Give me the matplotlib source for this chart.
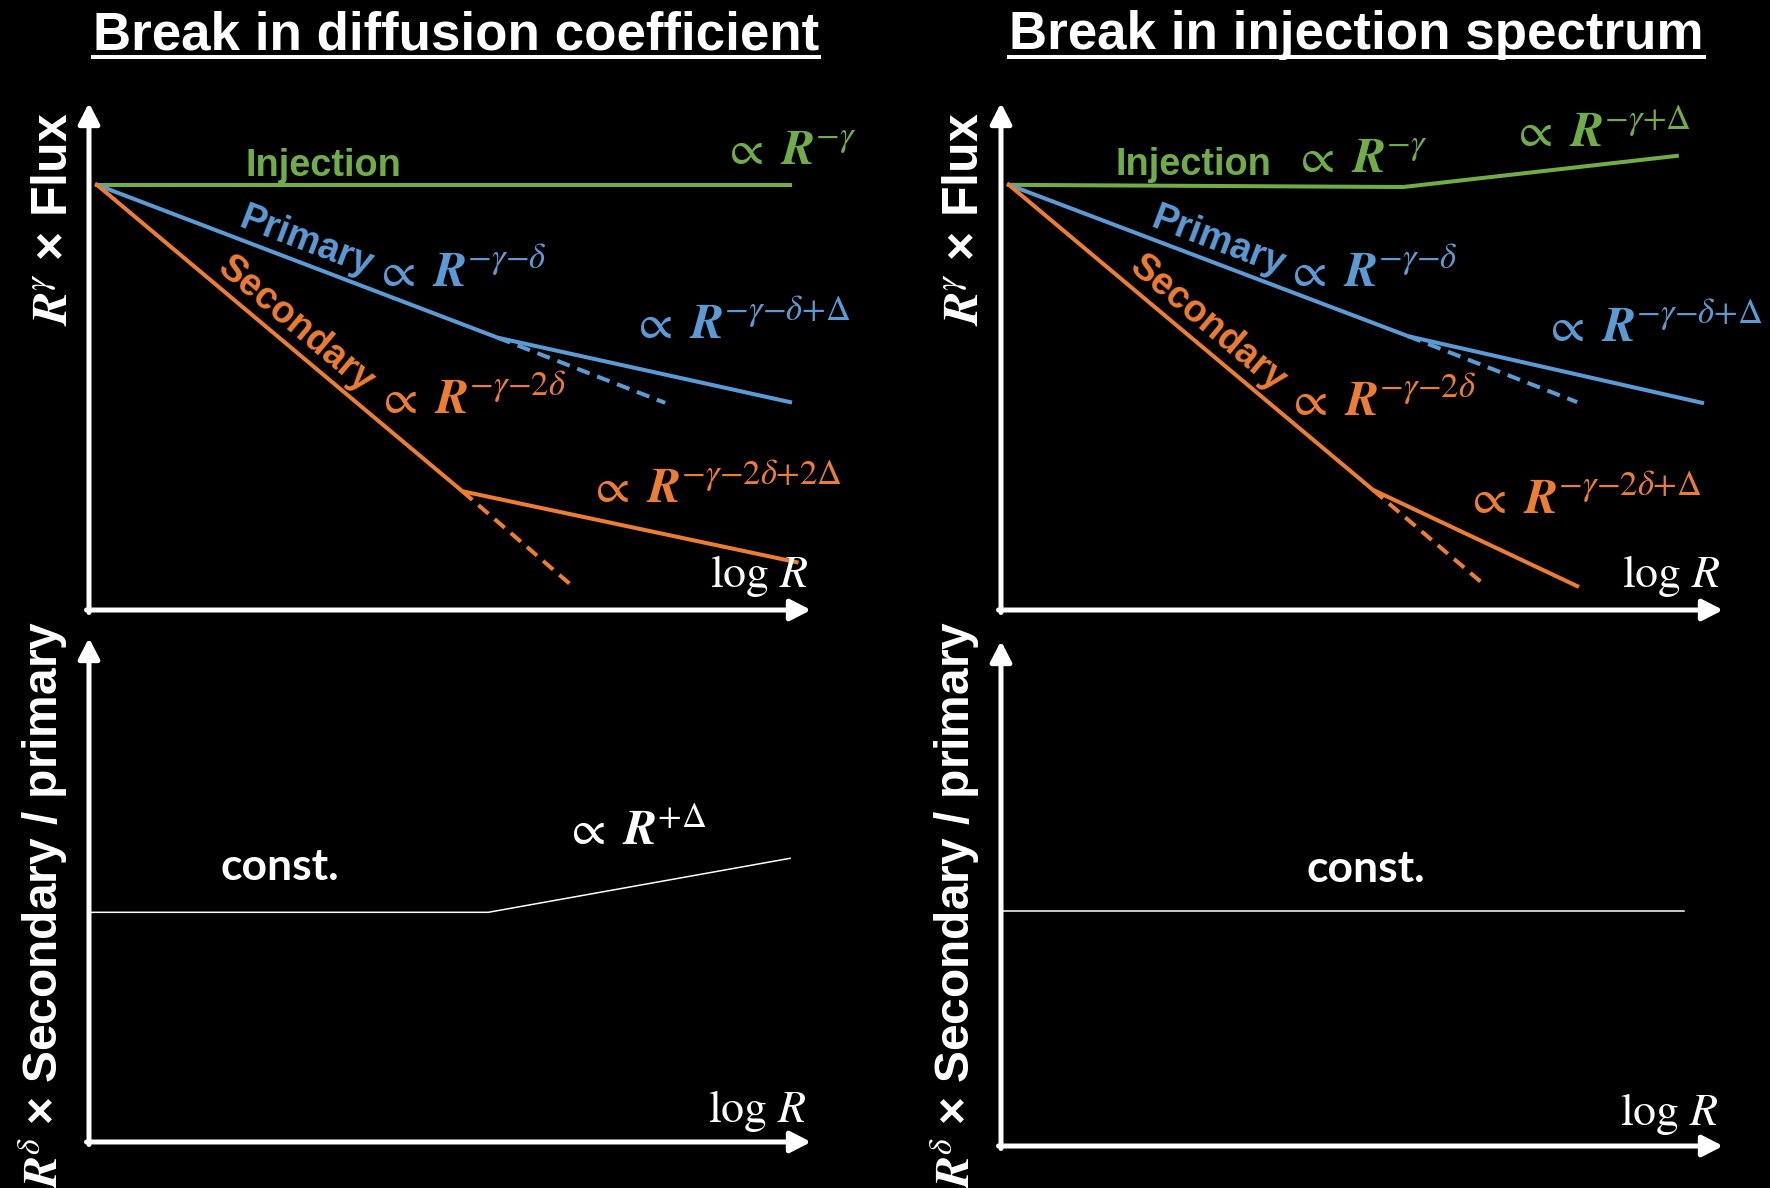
import numpy as np
import matplotlib
matplotlib.use("Agg")
import matplotlib.pyplot as plt
from matplotlib.transforms import offset_copy

plt.rcParams['mathtext.fontset'] = 'stix'

W, H = 1770, 1188
GREEN = '#70AD47'
BLUE = '#5B9BD5'
ORANGE = '#ED7D31'
WHITE = 'white'
SANS = 'Liberation Sans'

# ---- schematic spectra: x = log R, y = log(R^gamma x flux), arbitrary units ----
# Break in the diffusion coefficient
diff_inj_x = [0.11, 9.71]
diff_inj_y = [5.87, 5.87]
diff_pri_x = [0.11, 5.66, 9.71]
diff_pri_y = [5.87, 3.76, 2.87]
diff_pri_nobreak_x = [5.66, 7.98]
diff_pri_nobreak_y = [3.76, 2.86]
diff_sec_x = [0.11, 5.17, 9.80]
diff_sec_y = [5.87, 1.64, 0.66]
diff_sec_nobreak_x = [5.17, 6.66]
diff_sec_nobreak_y = [1.64, 0.36]
diff_ratio_x = [0.0, 5.53, 9.71]
diff_ratio_y = [3.19, 3.19, 3.94]

# Break in the injection spectrum
inj_inj_x = [0.11, 5.57, 9.36]
inj_inj_y = [5.87, 5.84, 6.27]
inj_pri_x = [0.11, 5.64, 9.71]
inj_pri_y = [5.87, 3.78, 2.86]
inj_pri_nobreak_x = [5.64, 7.98]
inj_pri_nobreak_y = [3.78, 2.87]
inj_sec_x = [0.11, 5.15, 7.98]
inj_sec_y = [5.87, 1.66, 0.33]
inj_sec_nobreak_x = [5.15, 6.68]
inj_sec_nobreak_y = [1.66, 0.36]
inj_ratio_x = [0.0, 9.46]
inj_ratio_y = [3.26, 3.26]

panel_titles = ['Break in diffusion coefficient', 'Break in injection spectrum']
flux_ylabel = r'$\mathbfit{R}^{\gamma}$ × Flux'
ratio_ylabel = r'$\mathbfit{R}^{\delta}$ × Secondary / primary'
xlabel = r'$\log\,R$'

fig = plt.figure(figsize=(W / 100, H / 100), dpi=100, facecolor='black')


def add_panel(left, top, bottom, right):
    ax = fig.add_axes([left / W, 1 - bottom / H, (right - left) / W, (bottom - top) / H])
    ax.set_xlim(0, 10)
    ax.set_ylim(0, 7)
    ax.set_facecolor('black')
    ax.axis('off')
    # arrowed axes
    style = '-|>,head_length=0.62,head_width=0.32'
    padx = 2.5 / (right - left)
    pady = 2.5 / (bottom - top)
    for start, end in [((-padx, 0), (1, 0)), ((0, -pady), (0, 1))]:
        ax.annotate('', xy=end, xytext=start, xycoords='axes fraction',
                    textcoords='axes fraction', annotation_clip=False,
                    arrowprops=dict(arrowstyle=style, color=WHITE, lw=3.6,
                                    mutation_scale=20, shrinkA=0, shrinkB=0))
    return ax


def ftext(x, y, s, **kw):
    return fig.text(x / W, 1 - y / H, s, **kw)


def along(ax, xs, ys, xpos, s, color, offset=3):
    """Place a word rotated along the first segment of a line."""
    x0, y0, x1, y1 = xs[0], ys[0], xs[1], ys[1]
    ypos = y0 + (y1 - y0) * (xpos - x0) / (x1 - x0)
    p0 = ax.transData.transform((x0, y0))
    p1 = ax.transData.transform((x1, y1))
    ang = np.degrees(np.arctan2(p1[1] - p0[1], p1[0] - p0[0]))
    nx, ny = -np.sin(np.radians(ang)), np.cos(np.radians(ang))
    tr = offset_copy(ax.transData, fig=fig, x=nx * offset, y=ny * offset, units='dots')
    ax.text(xpos, ypos, s, transform=tr, rotation=ang, rotation_mode='anchor',
            ha='center', va='bottom', color=color, fontsize=27,
            fontweight='bold', family=SANS)


def spectra(ax, inj, pri, pri_nb, sec, sec_nb):
    lw = 2.9
    ax.plot(*inj, color=GREEN, lw=lw, solid_joinstyle='miter')
    ax.plot(*pri, color=BLUE, lw=lw)
    ax.plot(*pri_nb, color=BLUE, lw=lw, ls=(0, (3.3, 2.0)))
    ax.plot(*sec, color=ORANGE, lw=lw)
    ax.plot(*sec_nb, color=ORANGE, lw=lw, ls=(0, (3.3, 2.0)))


ax_tl = add_panel(89, 103, 610, 811)
ax_tr = add_panel(1001, 103, 610, 1723)
ax_bl = add_panel(89, 638, 1142, 811)
ax_br = add_panel(1001, 641, 1146, 1723)

spectra(ax_tl, (diff_inj_x, diff_inj_y), (diff_pri_x, diff_pri_y),
        (diff_pri_nobreak_x, diff_pri_nobreak_y), (diff_sec_x, diff_sec_y),
        (diff_sec_nobreak_x, diff_sec_nobreak_y))
spectra(ax_tr, (inj_inj_x, inj_inj_y), (inj_pri_x, inj_pri_y),
        (inj_pri_nobreak_x, inj_pri_nobreak_y), (inj_sec_x, inj_sec_y),
        (inj_sec_nobreak_x, inj_sec_nobreak_y))
ax_bl.plot(diff_ratio_x, diff_ratio_y, color=WHITE, lw=1.1)
ax_br.plot(inj_ratio_x, inj_ratio_y, color=WHITE, lw=1.1)

for ax, pri, sec in [(ax_tl, (diff_pri_x, diff_pri_y), (diff_sec_x, diff_sec_y)),
                     (ax_tr, (inj_pri_x, inj_pri_y), (inj_sec_x, inj_sec_y))]:
    along(ax, *pri, 2.9, 'Primary', BLUE)
    along(ax, *sec, 2.68, 'Secondary', ORANGE)

# titles with underline
for x0, title in zip([93, 1009], panel_titles):
    ftext(x0, 49, title, color=WHITE, fontsize=38.1, fontweight='bold',
          family=SANS, ha='left', va='baseline')
fig.canvas.draw()
renderer = fig.canvas.get_renderer()
for t in list(fig.texts):
    bb = t.get_window_extent(renderer)
    fig.add_artist(plt.Line2D([bb.x0 / W, bb.x1 / W], [1 - 57 / H, 1 - 57 / H],
                              transform=fig.transFigure, color=WHITE, lw=2.9))

# y labels
for xb, ytop, s, fs in [(67, 113, flux_ylabel, 36), (978, 113, flux_ylabel, 36),
                        (58, 621, ratio_ylabel, 34.5), (970, 621, ratio_ylabel, 34.5)]:
    ftext(xb, ytop, s, rotation=90, rotation_mode='anchor', ha='right',
          va='baseline', color=WHITE, fontsize=fs, fontweight='bold', family=SANS)

# word labels
for x, y in [(246, 176), (1116, 175)]:
    ftext(x, y, 'Injection', color=GREEN, fontsize=27.3, fontweight='bold',
          family=SANS, ha='left', va='baseline')
for x, y in [(220, 880), (1306, 882)]:
    ftext(x, y, 'const.', color=WHITE, fontsize=32, fontweight='bold',
          family='Lato', ha='left', va='baseline')

# power-law labels (exponent operators kept tight, as ordinary symbols)
slope_labels = [
    (722, 164, r'$\propto\ \mathbfit{R}^{{-}\gamma}$', GREEN),
    (374, 286, r'$\propto\ \mathbfit{R}^{{-}\gamma{-}\delta}$', BLUE),
    (631, 338, r'$\propto\ \mathbfit{R}^{{-}\gamma{-}\delta{+}\Delta}$', BLUE),
    (376, 413, r'$\propto\ \mathbfit{R}^{{-}\gamma{-}2\delta}$', ORANGE),
    (588, 502, r'$\propto\ \mathbfit{R}^{{-}\gamma{-}2\delta{+}2\Delta}$', ORANGE),
    (1293, 172, r'$\propto\ \mathbfit{R}^{{-}\gamma}$', GREEN),
    (1511, 147, r'$\propto\ \mathbfit{R}^{{-}\gamma{+}\Delta}$', GREEN),
    (1285, 286, r'$\propto\ \mathbfit{R}^{{-}\gamma{-}\delta}$', BLUE),
    (1543, 341, r'$\propto\ \mathbfit{R}^{{-}\gamma{-}\delta{+}\Delta}$', BLUE),
    (1286, 415, r'$\propto\ \mathbfit{R}^{{-}\gamma{-}2\delta}$', ORANGE),
    (1465, 513, r'$\propto\ \mathbfit{R}^{{-}\gamma{-}2\delta{+}\Delta}$', ORANGE),
    (564, 845, r'$\propto\ \mathbfit{R}^{{+}\Delta}$', WHITE),
]
for x, y, s, c in slope_labels:
    ftext(x, y, s, color=c, fontsize=35.5, ha='left', va='baseline')

for x, y in [(710, 587), (1622, 587), (708, 1122), (1620, 1125)]:
    ftext(x, y, xlabel, color=WHITE, fontsize=33, ha='left', va='baseline')

fig.savefig('out.png', dpi=100, facecolor='black')
